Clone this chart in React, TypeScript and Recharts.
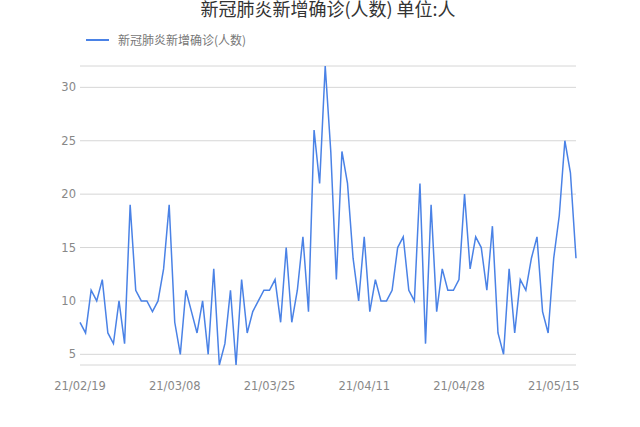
import { LineChart, Line, XAxis, YAxis, CartesianGrid } from "recharts";

const startDate = "21/02/19";

// daily new confirmed cases, 21/02/19 .. 21/05/18
const cases = [
  8, 7, 11, 10, 12, 7, 6, 10, 6, 19, 11, 10, 10, 9, 10, 13, 19, 8, 5, 11,
  9, 7, 10, 5, 13, 4, 6, 11, 4, 12, 7, 9, 10, 11, 11, 12, 8, 15, 8, 11,
  16, 9, 26, 21, 32, 24, 12, 24, 21, 14, 10, 16, 9, 12, 10, 10, 11, 15, 16, 11,
  10, 21, 6, 19, 9, 13, 11, 11, 12, 20, 13, 16, 15, 11, 17, 7, 5, 13, 7, 12,
  11, 14, 16, 9, 7, 14, 18, 25, 22, 14,
];

const yTicks = [5, 10, 15, 20, 25, 30];

const seriesName = "新冠肺炎新增确诊(人数)";
const title = "新冠肺炎新增确诊(人数) 单位:人";

const pad = (n: number) => (n < 10 ? "0" + n : "" + n);

const dates = cases.map((_, i) => {
  const [yy, mm, dd] = startDate.split("/").map(Number);
  const d = new Date(2000 + yy, mm - 1, dd + i);
  return `${pad(d.getFullYear() % 100)}/${pad(d.getMonth() + 1)}/${pad(d.getDate())}`;
});

const data = cases.map((v, i) => ({ date: dates[i], value: v }));

const App = () => {
  return (
    <div
      style={{
        position: "absolute",
        left: 0,
        top: 0,
        width: 640,
        height: 427,
        background: "#fff",
        fontFamily: "'Noto Sans CJK SC', 'DejaVu Sans', sans-serif",
      }}
    >
      <div
        style={{
          position: "absolute",
          top: -4,
          left: 0,
          width: 656,
          textAlign: "center",
          fontSize: 18,
          color: "#333",
          lineHeight: "24px",
        }}
      >
        {title}
      </div>
      {/* legend */}
      <div
        style={{
          position: "absolute",
          top: 31,
          left: 86,
          display: "flex",
          alignItems: "center",
          fontSize: 12,
          color: "#777",
          lineHeight: "18px",
        }}
      >
        <span style={{ display: "inline-block", width: 23, height: 2, background: "#4a82e6", marginRight: 9 }} />
        <span>{seriesName}</span>
      </div>
      <LineChart
        width={640}
        height={427}
        data={data}
        margin={{ top: 66, right: 64, left: 0, bottom: 32 }}
      >
        <CartesianGrid vertical={false} stroke="#d6d6d6" />
        <XAxis
          dataKey="date"
          interval={16}
          height={30}
          axisLine={false}
          tickLine={false}
          tickSize={0}
          tickMargin={17}
          tick={{ fill: "#888", fontSize: 11.5, fontFamily: "DejaVu Sans" }}
        />
        <YAxis
          width={80}
          domain={[4, 32]}
          ticks={yTicks}
          axisLine={false}
          tickLine={false}
          tickSize={0}
          tickMargin={4}
          tick={{ fill: "#888", fontSize: 11.5, fontFamily: "DejaVu Sans" }}
        />
        <Line
          type="linear"
          dataKey="value"
          name={seriesName}
          stroke="#4a82e6"
          strokeWidth={1.5}
          dot={false}
          isAnimationActive={false}
        />
      </LineChart>
    </div>
  );
};

export default App;
